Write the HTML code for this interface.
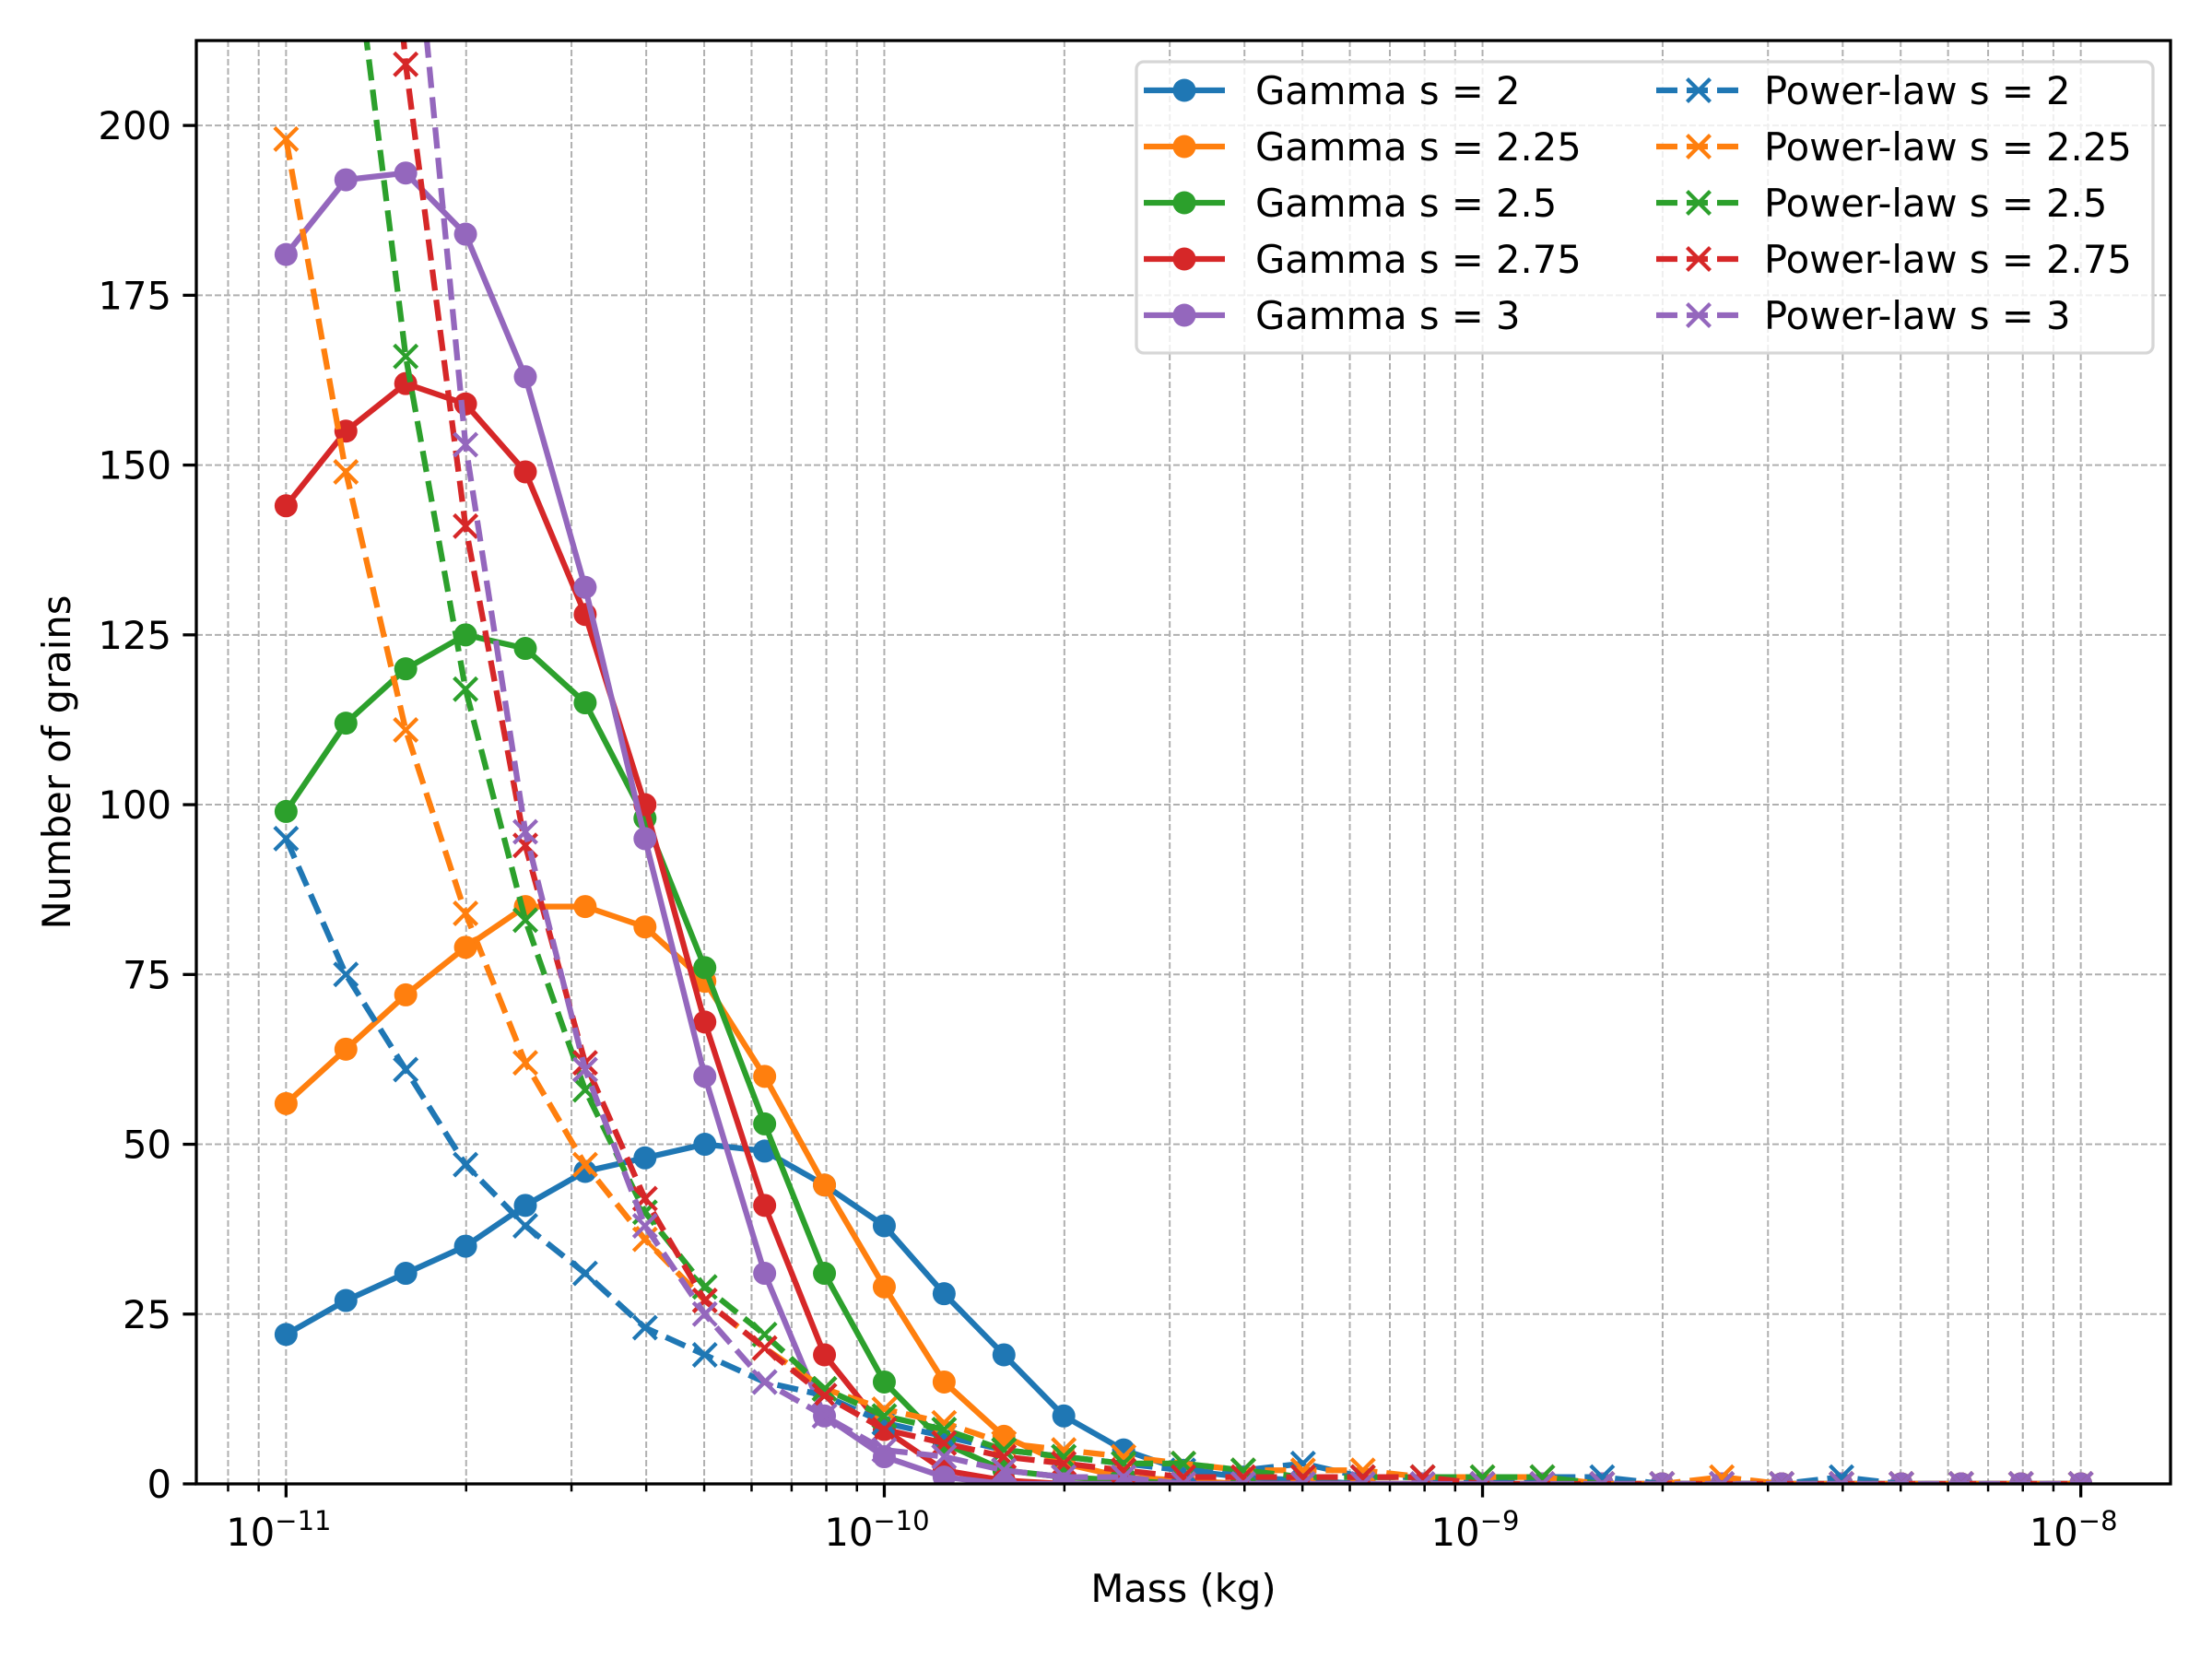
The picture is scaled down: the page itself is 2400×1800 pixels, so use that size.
<!DOCTYPE html>
<html><head><meta charset="utf-8"><style>
html,body{margin:0;padding:0;background:#fff;}
svg{display:block;font-family:"DejaVu Sans","Liberation Sans",sans-serif;}
</style></head><body>
<svg id="chart" width="2400" height="1800" viewBox="0 0 2400 1800" xmlns="http://www.w3.org/2000/svg">
<defs><clipPath id="plotclip"><rect x="213" y="44" width="2142" height="1566"/></clipPath></defs>
<rect width="2400" height="1800" fill="#fff"/>
<g id="grid"></g>
<g id="series" clip-path="url(#plotclip)"></g>
<rect x="213" y="44" width="2142" height="1566" fill="none" stroke="#000" stroke-width="3.3"/>
<g id="ticks"></g>
<text x="1284" y="1738" font-size="41.7" text-anchor="middle">Mass (kg)</text>
<text x="76" y="827" font-size="41.7" text-anchor="middle" transform="rotate(-90 76 827)">Number of grains</text>
<g id="legend"></g>
</svg>
<script>
const exponents = [];
for (let k = 0; k <= 30; k++) exponents.push(-11 + k / 10);
const seriesNames = ["Gamma s = 2","Gamma s = 2.25","Gamma s = 2.5","Gamma s = 2.75","Gamma s = 3","Power-law s = 2","Power-law s = 2.25","Power-law s = 2.5","Power-law s = 2.75","Power-law s = 3"];
const gamma2 = [22,27,31,35,41,46,48,50,49,44,38,28,19,10,5,2,1,0.5,0,0,0,0,0,0,0,0,0,0,0,0,0];
const gamma225 = [56,64,72,79,85,85,82,74,60,44,29,15,7,3,1,0.5,0,0,0,0,0,0,0,0,0,0,0,0,0,0,0];
const gamma25 = [99,112,120,125,123,115,98,76,53,31,15,6,2,1,0.5,0,0,0,0,0,0,0,0,0,0,0,0,0,0,0,0];
const gamma275 = [144,155,162,159,149,128,100,68,41,19,8,2,0.5,0,0,0,0,0,0,0,0,0,0,0,0,0,0,0,0,0,0];
const gamma3 = [181,192,193,184,163,132,95,60,31,10,4,1,0,0,0,0,0,0,0,0,0,0,0,0,0,0,0,0,0,0,0];
const power2 = [95,75,61,47,38,31,23,19,15,13,9,7,5,4,3,2,2,3,1,1,0,1,1,0,0,0,1,0,0,0,0];
const power225 = [198,149,111,84,62,47,36,27,20,14,11,9,6,5,4,3,2,2,2,1,1,1,0,0,1,0,0,0,0,0,0];
const power25 = [339,237,166,117,83,58,40,29,22,14,10,8,5,4,3,3,2,1,1,1,1,1,0,0,0,0,0,0,0,0,0];
const power275 = [460,310,209,141,94,62,42,27,20,13,8,6,4,3,2,1,1,1,1,1,0,0,0,0,0,0,0,0,0,0,0];
const power3 = [620,390,245,153,96,61,38,25,15,10,5,4,2,1,1,0,0,0,0,0,0,0,0,0,0,0,0,0,0,0,0];
const yTicks = [0,25,50,75,100,125,150,175,200];
const xDecades = [-11,-10,-9,-8];

const colors = ["#1f77b4","#ff7f0e","#2ca02c","#d62728","#9467bd"];
const NS = "http://www.w3.org/2000/svg";
const L = 213, R = 2355, T = 44, B = 1610;
const xMin = -11.15, xMax = -7.85, yMin = 0, yMax = 212.5;
function xs(e){ return L + (e - xMin) / (xMax - xMin) * (R - L); }
function ys(v){ return B - (v - yMin) / (yMax - yMin) * (B - T); }
function mk(tag, attrs, parent){ const el = document.createElementNS(NS, tag); for (const k in attrs) el.setAttribute(k, attrs[k]); parent.appendChild(el); return el; }

const grid = document.getElementById('grid');
const ticks = document.getElementById('ticks');
yTicks.forEach(v => {
  const y = ys(v);
  const g = mk('line', {x1:L, x2:R, y1:y, y2:y, stroke:'#b0b0b0', 'stroke-width':2, 'stroke-dasharray':'7,3'}, grid);
  
  
  mk('line', {x1:L-14.6, x2:L, y1:y, y2:y, stroke:'#000', 'stroke-width':3.3}, ticks);
  const t = mk('text', {x:L-27, y:y+15, 'font-size':41.7, 'text-anchor':'end'}, ticks);
  t.textContent = v;
  
  
});
for (let d = -12; d <= -8; d++) {
  for (let m = 1; m <= 9; m++) {
    const e = d + Math.log10(m);
    if (e < xMin || e > xMax) continue;
    const x = xs(e);
    const g = mk('line', {x1:x, x2:x, y1:T, y2:B, stroke:'#b0b0b0', 'stroke-width':2, 'stroke-dasharray':'7,3'}, grid);
    
    
    mk('line', {x1:x, x2:x, y1:B, y2:B + (m === 1 ? 14.6 : 8.3), stroke:'#000', 'stroke-width':m === 1 ? 3.3 : 2.5}, ticks);
  }
}
xDecades.forEach(d => {
  const x = xs(d);
  const t = mk('text', {x:x - 8, y:1677, 'font-size':41.7, 'text-anchor':'middle'}, ticks);
  
  
  t.appendChild(document.createTextNode('10'));
  const sup = mk('tspan', {dy:-17, 'font-size':29}, t);
  sup.textContent = '\u2212' + (-d);
});

const seriesG = document.getElementById('series');
const gammaData = [gamma2, gamma225, gamma25, gamma275, gamma3];
const powerData = [power2, power225, power25, power275, power3];
function drawSeries(vals, color, dashed, name){
  const g = mk('g', {}, seriesG);
  
  
  const pts = vals.map((v, i) => xs(exponents[i]).toFixed(1) + ',' + ys(v).toFixed(1)).join(' ');
  const pl = mk('polyline', {points:pts, fill:'none', stroke:color, 'stroke-width':6.25, 'stroke-linejoin':'round', 'stroke-linecap':dashed ? 'butt' : 'square'}, g);
  if (dashed) pl.setAttribute('stroke-dasharray', '23,10');
  vals.forEach((v, i) => {
    const x = xs(exponents[i]), y = ys(v);
    if (!dashed) {
      mk('circle', {cx:x, cy:y, r:12.5, fill:color}, g);
    } else {
      mk('path', {d:`M${x-12.5},${y-12.5}L${x+12.5},${y+12.5}M${x-12.5},${y+12.5}L${x+12.5},${y-12.5}`, stroke:color, 'stroke-width':4.2, fill:'none'}, g);
    }
  });
}
gammaData.forEach((d, i) => drawSeries(d, colors[i], false, 'gamma-series-' + i));
powerData.forEach((d, i) => drawSeries(d, colors[i], true, 'power-law-series-' + i));

const lg = document.getElementById('legend');
const box = mk('rect', {x:1233, y:67, width:1103, height:316, rx:8, fill:'#fff', 'fill-opacity':0.8, stroke:'#d6d6d6', 'stroke-width':3.3}, lg);


seriesNames.forEach((n, i) => {
  const col = i < 5 ? 0 : 1, row = i % 5;
  const y = 98 + row * 61;
  const hx = col === 0 ? 1241 : 1799;
  const tx = col === 0 ? 1362 : 1914;
  const g = mk('g', {}, lg);
  
  
  const color = colors[row];
  const ln = mk('line', {x1:hx, x2:hx + 88, y1:y, y2:y, stroke:color, 'stroke-width':6.25}, g);
  const mx = hx + 44;
  if (col === 0) mk('circle', {cx:mx, cy:y, r:12.5, fill:color}, g);
  else {
    ln.setAttribute('stroke-dasharray', '23,10');
    ln.setAttribute('x1', hx - 2);
    mk('path', {d:`M${mx-12.5},${y-12.5}L${mx+12.5},${y+12.5}M${mx-12.5},${y+12.5}L${mx+12.5},${y-12.5}`, stroke:color, 'stroke-width':4.2}, g);
  }
  const t = mk('text', {x:tx, y:y + 15, 'font-size':41.7}, g);
  t.textContent = n;
});
</script>
</body></html>
